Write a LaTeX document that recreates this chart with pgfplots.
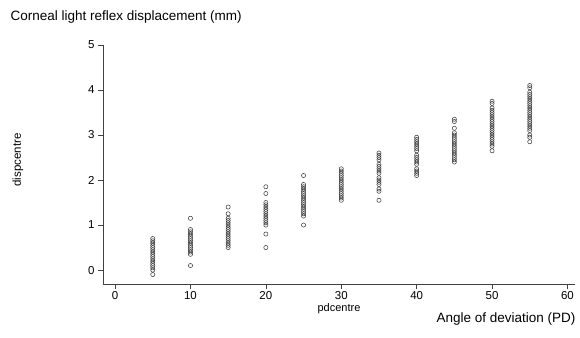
\documentclass[border=0pt]{standalone}
\usepackage{pgfplots}
\pgfplotsset{compat=1.18}
\usepackage{fontspec}
\setmainfont{Liberation Sans}
\begin{document}
\begin{tikzpicture}[x=1pt,y=1pt]
\useasboundingbox (-103,-53) rectangle (477,284);
\begin{axis}[
  at={(0,0)}, anchor=south west,
  scale only axis, width=472pt, height=239pt,
  xmin=-1.6, xmax=61, ymin=-0.31, ymax=5,
  axis lines=left, axis line style={-, line width=0.6pt, black!75},
  xtick={0,10,...,60}, ytick={0,1,...,5},
  tick align=outside, major tick length=5pt,
  tick style={line width=0.6pt, black!75},
  tick label style={font=\fontsize{11.5}{13}\selectfont},
  xticklabel style={yshift=1pt},
  /pgf/number format/assume math mode=true,
  xlabel={pdcentre}, xlabel style={font=\fontsize{11}{13}\selectfont, yshift=3pt},
  clip=false,
]
\addplot[only marks, mark=o, mark size=2.1pt, mark options={line width=0.5pt, draw=black!80}] coordinates {
(5,0.7)(5,0.65)(5,0.6)(5,0.55)(5,0.5)(5,0.45)(5,0.4)(5,0.35)(5,0.3)(5,0.25)(5,0.2)(5,0.15)(5,0.1)(5,0.05)(5,0.0)(5,-0.1)
(10,1.15)(10,0.9)(10,0.85)(10,0.8)(10,0.75)(10,0.7)(10,0.65)(10,0.6)(10,0.55)(10,0.5)(10,0.45)(10,0.4)(10,0.35)(10,0.1)
(15,1.4)(15,1.25)(15,1.15)(15,1.1)(15,1.05)(15,1.0)(15,0.95)(15,0.9)(15,0.85)(15,0.8)(15,0.75)(15,0.7)(15,0.65)(15,0.6)(15,0.55)(15,0.5)
(20,1.85)(20,1.7)(20,1.5)(20,1.45)(20,1.4)(20,1.35)(20,1.3)(20,1.25)(20,1.2)(20,1.15)(20,1.1)(20,1.05)(20,1.0)(20,0.8)(20,0.5)
(25,2.1)(25,1.9)(25,1.85)(25,1.8)(25,1.75)(25,1.7)(25,1.65)(25,1.6)(25,1.55)(25,1.5)(25,1.45)(25,1.4)(25,1.35)(25,1.3)(25,1.25)(25,1.2)(25,1.0)
(30,2.25)(30,2.2)(30,2.15)(30,2.1)(30,2.05)(30,2.0)(30,1.95)(30,1.9)(30,1.85)(30,1.8)(30,1.75)(30,1.7)(30,1.65)(30,1.6)(30,1.55)
(35,2.6)(35,2.55)(35,2.5)(35,2.45)(35,2.35)(35,2.3)(35,2.25)(35,2.2)(35,2.15)(35,2.05)(35,2.0)(35,1.95)(35,1.9)(35,1.8)(35,1.75)(35,1.55)
(40,2.95)(40,2.9)(40,2.85)(40,2.8)(40,2.75)(40,2.7)(40,2.65)(40,2.55)(40,2.5)(40,2.45)(40,2.4)(40,2.35)(40,2.25)(40,2.2)(40,2.15)(40,2.1)
(45,3.35)(45,3.3)(45,3.15)(45,3.05)(45,3.0)(45,2.95)(45,2.9)(45,2.85)(45,2.8)(45,2.75)(45,2.7)(45,2.65)(45,2.6)(45,2.55)(45,2.5)(45,2.45)(45,2.4)
(50,3.75)(50,3.7)(50,3.6)(50,3.55)(50,3.5)(50,3.45)(50,3.4)(50,3.35)(50,3.3)(50,3.25)(50,3.2)(50,3.15)(50,3.1)(50,3.05)(50,3.0)(50,2.95)(50,2.9)(50,2.85)(50,2.8)(50,2.75)(50,2.65)
(55,4.1)(55,4.05)(55,3.95)(55,3.9)(55,3.85)(55,3.8)(55,3.75)(55,3.7)(55,3.65)(55,3.6)(55,3.55)(55,3.5)(55,3.45)(55,3.4)(55,3.35)(55,3.3)(55,3.25)(55,3.2)(55,3.15)(55,3.1)(55,3.0)(55,2.95)(55,2.85)
};
\end{axis}
\node[anchor=west, font=\fontsize{13.5}{16}\selectfont] at (-96,267) {Corneal light reflex displacement (mm)};
\node[anchor=east, font=\fontsize{13.5}{16}\selectfont] at (476,-35) {Angle of deviation (PD)};
\node[rotate=90, font=\fontsize{11.5}{13}\selectfont] at (-85,124) {dispcentre};
\end{tikzpicture}
\end{document}
